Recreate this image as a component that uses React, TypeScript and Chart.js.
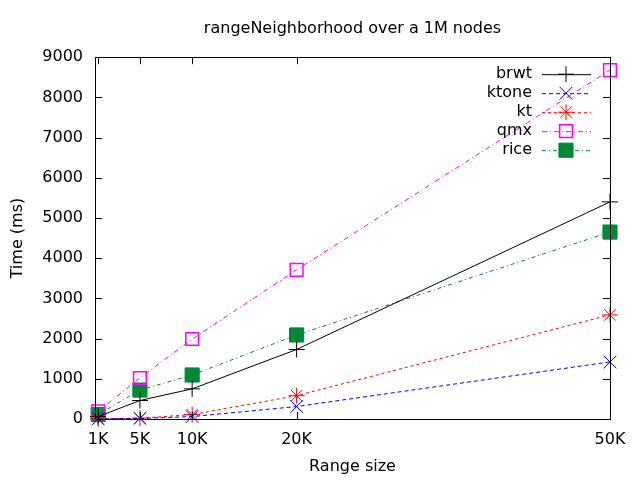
import { useEffect, useRef } from "react"
import { Chart, registerables } from "chart.js"
import { drawPoint } from "chart.js/helpers"

Chart.register(...registerables)

// range sizes (x) and their tick labels
const sizes = [1000, 5000, 10000, 20000, 50000]
const sizeLabels = ["1K", "5K", "10K", "20K", "50K"]

// time in ms per structure
const brwt = [60, 460, 750, 1730, 5400]
const ktone = [5, 15, 60, 310, 1420]
const kt = [5, 20, 110, 580, 2590]
const qmx = [190, 1020, 1990, 3710, 8680]
const rice = [110, 720, 1095, 2090, 4650]

const FONT = "DejaVu Sans"
const SIZE = 16

// gnuplot style: frame with inward ticks on all four sides
const framePlugin = {
  id: "frame",
  afterDatasetsDraw(chart: any) {
    const { ctx, chartArea: a, scales } = chart
    const len = 7
    ctx.save()
    ctx.strokeStyle = "#000"
    ctx.lineWidth = 1
    ctx.beginPath()
    scales.y.ticks.forEach((t: any) => {
      const y = Math.round(scales.y.getPixelForValue(t.value)) + 0.5
      ctx.moveTo(a.left, y)
      ctx.lineTo(a.left + len, y)
      ctx.moveTo(a.right, y)
      ctx.lineTo(a.right - len, y)
    })
    scales.x.ticks.forEach((t: any) => {
      const x = Math.round(scales.x.getPixelForValue(t.value)) + 0.5
      ctx.moveTo(x, a.bottom)
      ctx.lineTo(x, a.bottom - len)
      ctx.moveTo(x, a.top)
      ctx.lineTo(x, a.top + len)
    })
    ctx.stroke()
    ctx.strokeRect(Math.round(a.left) + 0.5, Math.round(a.top) + 0.5, Math.round(a.right - a.left), Math.round(a.bottom - a.top))
    ctx.restore()
  },
}

// key in the top right corner: label right-aligned, then line sample with marker
const keyPlugin = {
  id: "key",
  afterDatasetsDraw(chart: any) {
    const { ctx, chartArea: a } = chart
    ctx.save()
    ctx.font = `${SIZE}px "${FONT}"`
    ctx.textAlign = "right"
    ctx.textBaseline = "middle"
    chart.data.datasets.forEach((ds: any, i: number) => {
      const y = a.top + 17 + i * 19
      ctx.fillStyle = "#000"
      ctx.fillText(ds.label, a.right - 78, y)
      ctx.strokeStyle = ds.borderColor
      ctx.lineWidth = 1
      ctx.setLineDash(ds.borderDash || [])
      ctx.beginPath()
      ctx.moveTo(a.right - 68, y + 0.5)
      ctx.lineTo(a.right - 19, y + 0.5)
      ctx.stroke()
      ctx.setLineDash([])
      ctx.fillStyle = ds.pointBackgroundColor
      ctx.strokeStyle = ds.pointBorderColor
      ctx.lineWidth = ds.pointBorderWidth
      drawPoint(ctx, { pointStyle: ds.pointStyle, radius: ds.pointRadius, borderWidth: ds.pointBorderWidth, rotation: 0 }, a.right - 44, y)
    })
    ctx.restore()
  },
}

const series = (
  label: string,
  values: number[],
  color: string,
  dash: number[],
  pointStyle: string,
  radius: number,
  fill: string,
  pointBorderWidth = 1
) => ({
  label,
  data: sizes.map((x, i) => ({ x, y: values[i] })),
  borderColor: color,
  borderWidth: 1,
  borderDash: dash,
  pointStyle,
  pointRadius: radius,
  pointBorderColor: color,
  pointBackgroundColor: fill,
  pointBorderWidth,
  clip: false,
})

export default function App() {
  const chartRef = useRef<HTMLCanvasElement>(null)
  const chartInstance = useRef<Chart | null>(null)

  useEffect(() => {
    if (!chartRef.current) return
    if (chartInstance.current) chartInstance.current.destroy()

    const ctx = chartRef.current.getContext("2d")
    if (!ctx) return

    Chart.defaults.font.family = FONT
    Chart.defaults.color = "#000"

    chartInstance.current = new Chart(ctx, {
      type: "line",
      data: {
        datasets: [
          series("brwt", brwt, "#000000", [], "cross", 8, "#000000"),
          series("ktone", ktone, "#0000ff", [4, 3], "crossRot", 9, "#0000ff"),
          series("kt", kt, "#ff0000", [3, 3], "star", 8, "#ff0000"),
          series("qmx", qmx, "#ff00ff", [5, 3, 1, 3], "rect", 9, "rgba(0,0,0,0)", 1.5),
          series("rice", rice, "#008837", [4, 3, 1, 3], "rect", 10, "#008837"),
        ] as any,
      },
      options: {
        responsive: false,
        animation: false,
        layout: { padding: { top: 0, right: 30, bottom: 0, left: 0 } },
        plugins: {
          legend: { display: false },
          tooltip: { enabled: false },
          title: {
            display: true,
            fullSize: false,
            text: "rangeNeighborhood over a 1M nodes",
            font: { size: SIZE, weight: "normal" },
            color: "#000",
            padding: { top: 19, bottom: 19 },
          },
        },
        scales: {
          x: {
            type: "linear",
            min: 700,
            max: 50000,
            grid: { display: false, drawTicks: false },
            border: { display: false },
            afterBuildTicks: (scale: any) => {
              scale.ticks = sizes.map((value) => ({ value }))
            },
            afterFit: (scale: any) => {
              scale.height = 61
            },
            ticks: {
              autoSkip: false,
              maxRotation: 0,
              padding: 11,
              font: { size: SIZE },
              callback: (_v: any, i: number) => sizeLabels[i],
            },
            title: {
              display: true,
              text: "Range size",
              font: { size: SIZE },
              padding: { top: 0, bottom: 4 },
            },
          },
          y: {
            min: 0,
            max: 9000,
            grid: { display: false, drawTicks: false },
            border: { display: false },
            afterFit: (scale: any) => {
              scale.width = 95
            },
            ticks: {
              stepSize: 1000,
              padding: 12,
              font: { size: SIZE },
              callback: (v: any) => String(v),
            },
            title: {
              display: true,
              text: "Time (ms)",
              font: { size: SIZE },
              padding: { top: 8, bottom: 0 },
            },
          },
        },
      },
      plugins: [framePlugin, keyPlugin],
    })

    return () => {
      if (chartInstance.current) {
        chartInstance.current.destroy()
        chartInstance.current = null
      }
    }
  }, [])

  return (
    <div style={{ position: "absolute", left: 0, top: 0, width: 640, height: 480, background: "#fff" }}>
      <canvas ref={chartRef} width={640} height={480} />
    </div>
  )
}
